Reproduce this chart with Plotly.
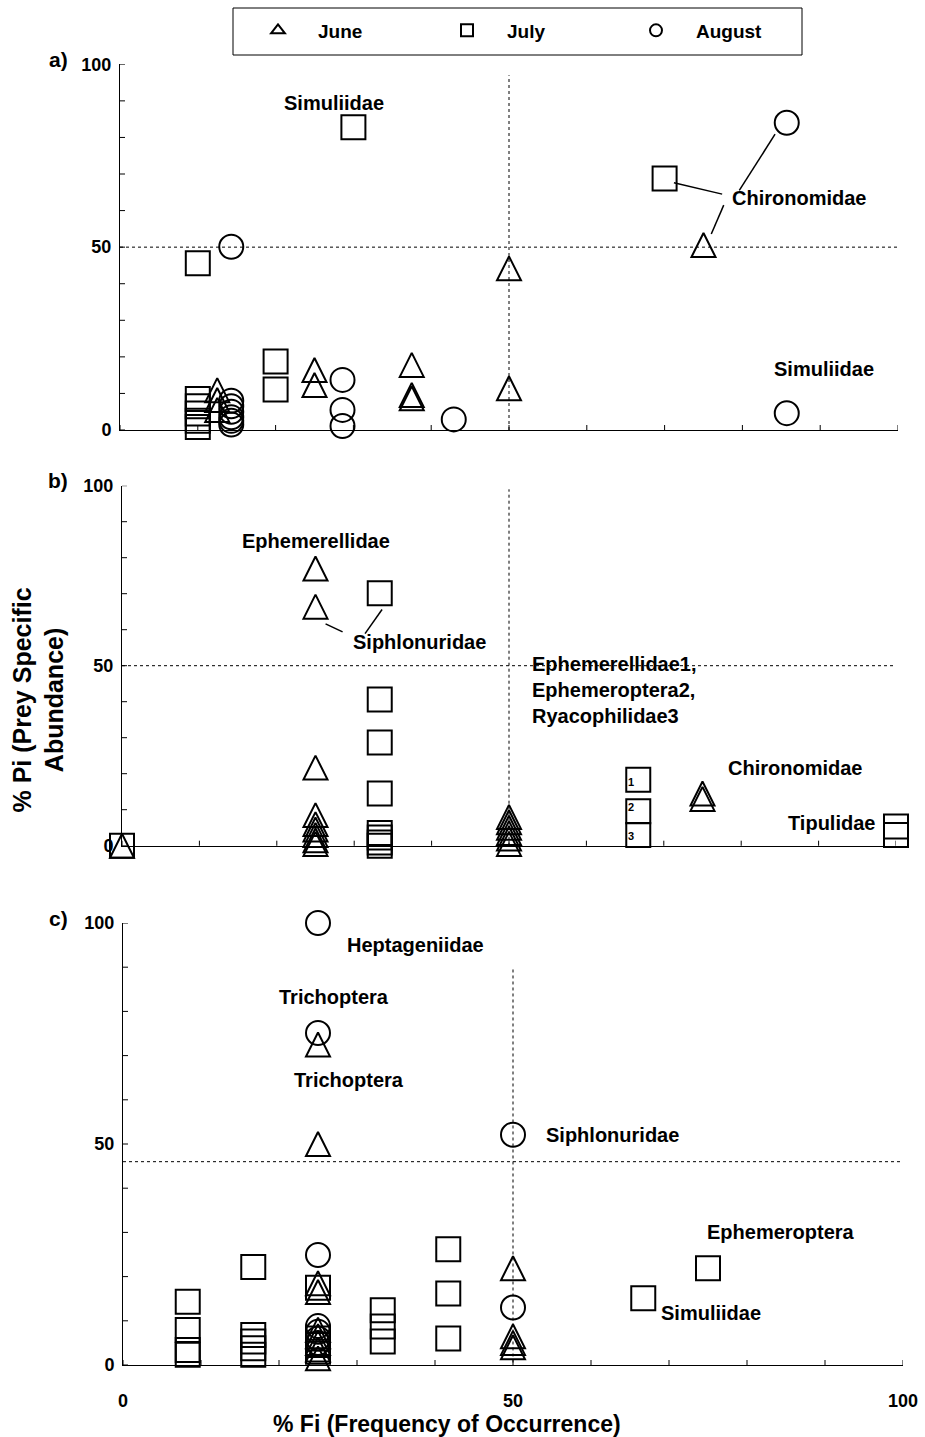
import plotly.graph_objects as go

W, H = 925, 1437
FONT = "Liberation Sans, Arial, sans-serif"

# ---------------- data ----------------
# panel a
a_june_x = [12.5, 12.5, 12.5, 25, 25, 37.5, 37.5, 37.5, 50, 50, 75]
a_june_y = [10.9, 8.2, 5.5, 16.4, 12.3, 17.8, 9.6, 8.7, 44.2, 11.4, 50.6]
a_july_x = [10, 30, 70, 20, 20, 10, 10, 10, 10, 10]
a_july_y = [45.6, 82.8, 68.8, 18.7, 11.1, 8.5, 6.5, 4.5, 2.5, 0.8]
a_aug_x = [14.3, 85.7, 28.6, 28.6, 28.6, 42.9, 85.7, 14.3, 14.3, 14.3, 14.3, 14.3, 14.3]
a_aug_y = [50.1, 84.0, 13.7, 5.5, 1.1, 2.9, 4.6, 8.0, 6.5, 5.0, 3.5, 2.5, 1.5]

# panel b
b_june_x = [0, 25, 25, 25, 25, 25, 25, 25, 25, 25, 50, 50, 50, 50, 50, 50, 75, 75]
b_june_y = [0, 77.0, 66.4, 21.7, 8.5, 6.0, 4.5, 3.0, 1.5, 0.5, 8.0, 6.5, 5.0, 3.5, 2.0, 0.5, 14.5, 13.0]
b_july_x = [0, 33.3, 33.3, 33.3, 33.3, 33.3, 33.3, 33.3, 33.3, 66.7, 66.7, 66.7, 100, 100]
b_july_y = [0, 70.1, 40.6, 28.7, 14.5, 3.5, 2.3, 0.9, 0, 18.3, 9.6, 3.0, 5.3, 3.0]

# panel c
c_june_x = [25, 25, 25, 25, 25, 25, 25, 25, 25, 50, 50, 50, 50]
c_june_y = [72.5, 50.0, 18.5, 16.5, 8.0, 6.5, 5.0, 3.5, 1.5, 21.9, 6.5, 5.0, 4.0]
c_july_x = [8.3, 8.3, 8.3, 8.3, 16.7, 16.7, 16.7, 16.7, 16.7, 25, 25, 25, 25,
            33.3, 33.3, 33.3, 41.7, 41.7, 41.7, 66.7, 75]
c_july_y = [14.3, 7.9, 3.4, 2.3, 22.2, 6.8, 5.3, 3.8, 2.3, 17.5, 6.0, 4.5, 3.0,
            12.4, 8.7, 5.3, 26.2, 16.2, 6.0, 15.1, 21.9]
c_aug_x = [25, 25, 50, 25, 50, 25, 25, 25, 25]
c_aug_y = [100, 75.1, 52.1, 24.9, 13.0, 8.8, 7.5, 6.0, 5.0]

# taxon labels per panel: (text, x, y, xanchor)
a_labels = [("Simuliidae", 27.5, 89.3, "center"),
            ("Chironomidae", 87.3, 63.4, "center"),
            ("Simuliidae", 90.5, 16.6, "center")]
b_labels = [("Ephemerellidae", 25.1, 84.6, "center"),
            ("Siphlonuridae", 38.4, 56.5, "center"),
            ("Ephemerellidae1,<br>Ephemeroptera2,<br>Ryacophilidae3", 52.7, 43.2, "left"),
            ("Chironomidae", 87.0, 21.5, "center"),
            ("Tipulidae", 97.6, 6.4, "right")]
b_numbers = [("1", 65.8, 17.7), ("2", 65.8, 10.8), ("3", 65.8, 2.7)]
c_labels = [("Heptageniidae", 37.5, 95.1, "center"),
            ("Trichoptera", 27.0, 83.2, "center"),
            ("Trichoptera", 29.0, 64.4, "center"),
            ("Siphlonuridae", 62.7, 52.1, "center"),
            ("Ephemeroptera", 84.4, 30.0, "center"),
            ("Simuliidae", 75.4, 11.7, "center")]

# leader lines (x0, y0, x1, y1)
a_leaders = [(71.2, 67.6, 77.4, 64.5), (84.2, 80.9, 79.6, 65.5), (76.0, 53.6, 77.6, 61.5)]
b_leaders = [(26.3, 61.6, 28.5, 59.4), (33.6, 65.6, 31.4, 58.9)]

# dotted reference lines: (vertical x, v-from, v-to, horizontal y, h-from, h-to)
a_ref = (50, 0, 97, 50, 0, 100.5)
b_ref = (50, 0, 99, 50, 0, 100)
c_ref = (50, -3.5, 90, 46, 0, 100)

TICKS = [0, 10, 20, 30, 40, 50, 60, 70, 80, 90, 100]
LABELLED = [0, 50, 100]

MONTHS = ["June", "July", "August"]

# ---------------- layout geometry (pixels) ----------------
PANELS = [
    dict(key="a", xa="x", ya="y", px0=120, px1=898, pybot=430, pytop=64.3,
         data=[(a_june_x, a_june_y), (a_july_x, a_july_y), (a_aug_x, a_aug_y)],
         labels=a_labels, leaders=a_leaders, ref=a_ref),
    dict(key="b", xa="x2", ya="y2", px0=122, px1=896, pybot=845.7, pytop=485.7,
         data=[(b_june_x, b_june_y), (b_july_x, b_july_y), ([], [])],
         labels=b_labels, leaders=b_leaders, ref=b_ref),
    dict(key="c", xa="x3", ya="y3", px0=123, px1=903, pybot=1365, pytop=923,
         data=[(c_june_x, c_june_y), (c_july_x, c_july_y), (c_aug_x, c_aug_y)],
         labels=c_labels, leaders=[], ref=c_ref),
]

MSIZE = 24
# upright isosceles triangle (width = height = size), centred on the point
TRI = dict(symbol="arrow-down-open", angle=180, standoff=MSIZE / 2)
MARKERS = [TRI, dict(symbol="square-open"), dict(symbol="circle-open")]
LEG_SYMBOLS = ["triangle-up-open", "square-open", "circle-open"]

fig = go.Figure()
shapes = []
annotations = []
layout_axes = {}

for i, p in enumerate(PANELS):
    for m, (xs, ys) in enumerate(p["data"]):
        mk = dict(size=MSIZE, color="black", line=dict(color="black", width=2))
        mk.update(MARKERS[m])
        fig.add_trace(go.Scatter(
            x=xs, y=ys, mode="markers", name=MONTHS[m], legendgroup=MONTHS[m],
            showlegend=False, marker=mk,
            cliponaxis=False, xaxis=p["xa"], yaxis=p["ya"]))

    xname = "xaxis" if p["xa"] == "x" else "xaxis" + p["xa"][1:]
    yname = "yaxis" if p["ya"] == "y" else "yaxis" + p["ya"][1:]
    xdom = [p["px0"] / W, p["px1"] / W]
    ydom = [1 - p["pybot"] / H, 1 - p["pytop"] / H]
    last = (p["key"] == "c")
    layout_axes[xname] = dict(
        domain=xdom, anchor=p["ya"], range=[0, 100], showgrid=False, zeroline=False,
        showline=True, linecolor="black", linewidth=1, ticks="",
        tickmode="array", tickvals=LABELLED, showticklabels=last,
        ticklabelstandoff=19,
        tickfont=dict(family=FONT, size=18, color="black", weight="bold"))
    layout_axes[yname] = dict(
        domain=ydom, anchor=p["xa"], range=[0, 100], showgrid=False, zeroline=False,
        showline=True, linecolor="black", linewidth=1, ticks="",
        tickmode="array", tickvals=LABELLED, showticklabels=True,
        ticklabelstandoff=4,
        tickfont=dict(family=FONT, size=18, color="black", weight="bold"))

    # crossing tick marks
    for v in TICKS:
        shapes.append(dict(type="line", xref=p["xa"], yref=p["ya"], x0=v, x1=v,
                           ysizemode="pixel", yanchor=0, y0=-5, y1=5,
                           line=dict(color="black", width=1)))
        shapes.append(dict(type="line", yref=p["ya"], xref=p["xa"], y0=v, y1=v,
                           xsizemode="pixel", xanchor=0, x0=-5, x1=5,
                           line=dict(color="black", width=1)))

    # dotted reference lines
    vx, vy0, vy1, hy, hx0, hx1 = p["ref"]
    shapes.append(dict(type="line", xref=p["xa"], yref=p["ya"], x0=vx, x1=vx, y0=vy0, y1=vy1,
                       line=dict(color="black", width=1, dash="dot")))
    shapes.append(dict(type="line", xref=p["xa"], yref=p["ya"], x0=hx0, x1=hx1, y0=hy, y1=hy,
                       line=dict(color="black", width=1, dash="dot")))

    for (x0, y0, x1, y1) in p["leaders"]:
        shapes.append(dict(type="line", xref=p["xa"], yref=p["ya"], x0=x0, y0=y0, x1=x1, y1=y1,
                           line=dict(color="black", width=1.5)))

    for (t, x, y, xa) in p["labels"]:
        annotations.append(dict(text=t, x=x, y=y, xref=p["xa"], yref=p["ya"], xanchor=xa,
                                yanchor="middle", showarrow=False, align="left",
                                font=dict(family=FONT, size=20, color="black", weight="bold")))

    # panel letter
    annotations.append(dict(text=p["key"] + ")", x=70 / W, y=1.0, xref="paper",
                            yref=p["ya"] + " domain", xanchor="right", yanchor="middle",
                            yshift=5, showarrow=False,
                            font=dict(family=FONT, size=21, color="black", weight="bold")))

for (t, x, y) in b_numbers:
    annotations.append(dict(text=t, x=x, y=y, xref="x2", yref="y2", xanchor="center",
                            yanchor="middle", showarrow=False,
                            font=dict(family=FONT, size=11, color="black", weight="bold")))

# legend-only entries (no data drawn)
for m in range(3):
    fig.add_trace(go.Scatter(
        x=[None], y=[None], mode="markers", name=MONTHS[m], legendgroup=MONTHS[m],
        showlegend=True, marker=dict(symbol=LEG_SYMBOLS[m], size=13, color="black",
                                     line=dict(color="black", width=2))))

# legend frame
shapes.append(dict(type="rect", xref="paper", yref="paper",
                   x0=233 / W, x1=802 / W, y0=1 - 55 / H, y1=1 - 8 / H,
                   line=dict(color="black", width=1), fillcolor="rgba(0,0,0,0)"))

# axis titles
annotations.append(dict(text="% Pi (Prey Specific<br>Abundance)", x=38.5 / W, y=1 - 700 / H,
                        xref="paper", yref="paper", textangle=-90, showarrow=False,
                        xanchor="center", yanchor="middle", align="center",
                        font=dict(family=FONT, size=25, color="black", weight="bold")))
annotations.append(dict(text="% Fi (Frequency of Occurrence)", x=447 / W, y=1 - 1424 / H,
                        xref="paper", yref="paper", showarrow=False,
                        xanchor="center", yanchor="middle",
                        font=dict(family=FONT, size=23, color="black", weight="bold")))

fig.update_layout(
    width=W, height=H, autosize=False, template="none",
    paper_bgcolor="white", plot_bgcolor="rgba(0,0,0,0)",
    margin=dict(l=0, r=0, t=0, b=0),
    font=dict(family=FONT, size=19, color="black"),
    showlegend=True,
    legend=dict(orientation="h", x=(241 + 802) / 2 / W, xanchor="center",
                y=1 - 30.5 / H, yanchor="middle", borderwidth=0,
                bgcolor="rgba(0,0,0,0)", itemsizing="constant", itemwidth=70,
                entrywidth=104, entrywidthmode="pixels",
                font=dict(family=FONT, size=19, color="black", weight="bold")),
    shapes=shapes, annotations=annotations,
    **layout_axes,
)

fig.write_html("out.html", config={"displayModeBar": False},
               post_script="document.body.style.margin='0';document.body.style.overflow='hidden';")
